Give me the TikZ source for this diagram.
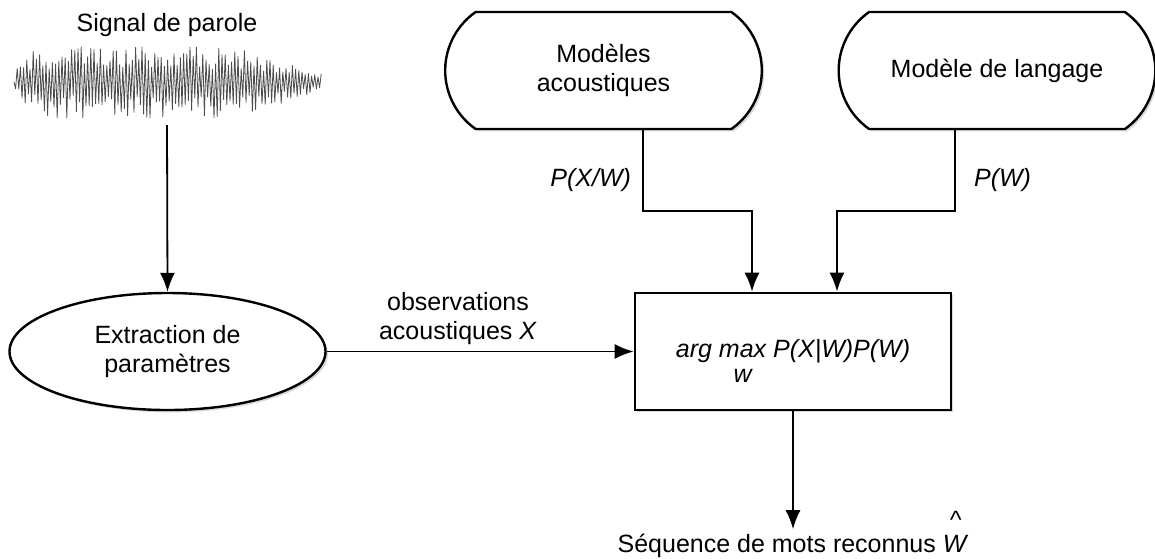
\documentclass[tikz,border=0pt]{standalone}
\usepackage{amsmath}
\usepackage{fontspec}
\setmainfont{Liberation Sans}
\usepackage{tikz}
\usetikzlibrary{arrows.meta}
\usetikzlibrary{shapes.geometric}
\usetikzlibrary{shapes.misc}
\usetikzlibrary{shadows}

\newcommand{\hatW}{\ooalign{\textit{W}\cr\hidewidth\smash{\raisebox{12pt}{\textit{\^{}}}}\hidewidth\cr}}

\tikzset{
  txt/.style={font=\fontsize{12.5}{14.5}\selectfont, align=center},
  lbl/.style={font=\fontsize{12.5}{14.5}\selectfont\itshape},
  shd/.style={fill=white, drop shadow={shadow xshift=1.2pt, shadow yshift=-1.2pt, opacity=0.3}},
  mdlbox/.style={txt, shd, shape=rounded rectangle, rounded rectangle arc length=110, draw, line width=1.2pt, minimum width=165pt, minimum height=58.5pt},
  extbox/.style={txt, shd, shape=ellipse, draw, line width=1.2pt, minimum width=158pt, minimum height=58.5pt, inner sep=1pt},
  decbox/.style={lbl, shd, shape=rectangle, draw, line width=1.4pt, minimum width=158pt, minimum height=58.5pt, text height=18pt, text depth=12pt},
  arr/.style={-{Latex[length=9.5pt,width=7.5pt]}, line width=0.9pt},
}

\begin{document}
\begin{tikzpicture}[x=0.5pt, y=-0.5pt]
\useasboundingbox (0,0) rectangle (1155,558);

% signal
\node [txt] (sig) at (167,25) {Signal de parole};
\pgfmathsetseed{42}
\coordinate (w0) at (14,82);
\draw [black!70, line width=0.4pt, line join=round] (w0) foreach \i in {1,...,192} { -- ({14+1.6*\i}, {82+(2*mod(\i,2)-1)*min(36,10+1.92*\i,8+0.35*(308-1.6*\i))*(0.35+0.65*rnd)}) };
\coordinate (wv) at (167,125);

% blocks
\node [extbox] (ext) at (167.5,351.5) {Extraction de\\paramètres};
\node [mdlbox] (am) at (603.5,70.5) {Modèles\\acoustiques};
\node [mdlbox] (lm) at (997,70.5) {Modèle de langage};
\node [decbox] (argmax) at (793,351.5) {arg \begin{tabular}[t]{@{}c@{}}max\\[-2pt]w\end{tabular} P(X|W)P(W)};
\node [txt, inner sep=0pt, anchor=base] (out) at (793,552) {Séquence de mots reconnus \hatW};

% labels
\node [lbl, anchor=east] (pxw) at (638,180) {P(X/W)};
\node [lbl, anchor=west] (pw) at (967,180) {P(W)};
\node [txt] (obs) at (458,319) {observations\\acoustiques \textit{X}};

% connectors
\coordinate (ta) at (643,211);
\coordinate (ka) at (752,211);
\coordinate (tl) at (955,211);
\coordinate (kl) at (837,211);
\draw [arr] (wv) -- (ext.north);
\draw [arr] (am.south -| ta) -- (ta) -- (ka) -- (argmax.north -| ka);
\draw [arr] (lm.south -| tl) -- (tl) -- (kl) -- (argmax.north -| kl);
\draw [arr] (ext) -- (argmax);
\draw [arr, shorten >=2pt] (argmax) -- (out.north);
\end{tikzpicture}
\end{document}
